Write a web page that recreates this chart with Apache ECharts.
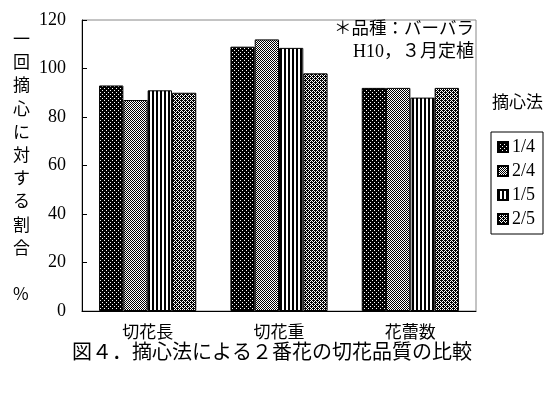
<!DOCTYPE html>
<html><head><meta charset="utf-8">
<script src="https://cdn.jsdelivr.net/npm/echarts@6/dist/echarts.min.js"></script>
<style>html,body{margin:0;padding:0;background:#fff}#c{width:560px;height:394px}</style>
</head><body><div id="c"></div>
<script>
const categories = ['切花長', '切花重', '花蕾数'];
const seriesNames = ['1/4', '2/4', '1/5', '2/5'];
const s14 = [93, 109, 92];
const s24 = [87, 112, 92];
const s15 = [91, 108.5, 88];
const s25 = [90, 98, 92];
const yTicks = [0, 20, 40, 60, 80, 100, 120];

function tile(w, h, fn) {
  const c = document.createElement('canvas');
  c.width = w; c.height = h;
  const g = c.getContext('2d');
  const img = g.createImageData(w, h);
  for (let y = 0; y < h; y++) for (let x = 0; x < w; x++) {
    const v = fn(x, y) ? 0 : 255;
    const i = (y * w + x) * 4;
    img.data[i] = img.data[i+1] = img.data[i+2] = v; img.data[i+3] = 255;
  }
  g.putImageData(img, 0, 0);
  return c;
}
const p1 = tile(4, 4, (x, y) => !((x === 0 && y === 0) || (x === 2 && y === 2)));
const p2 = tile(2, 2, (x, y) => (x + y) % 2 === 0);
const p3 = tile(4, 1, (x, y) => x < 2);
const p4 = tile(4, 4, (x, y) => (x + y) % 2 === 0 || (x === 1 && y === 0) || (x === 3 && y === 2));
const pats = [p1, p2, p3, p4];
const vals = [s14, s24, s15, s25];

const FONT = "'Liberation Serif', 'Noto Sans CJK JP', serif";
const JFONT = "'Noto Sans CJK JP', sans-serif";

const chart = echarts.init(document.getElementById('c'), null, {renderer: 'canvas'});
chart.setOption({
  animation: false,
  backgroundColor: '#fff',
  grid: {left: 82, right: 84, top: 20, bottom: 83, show: true, borderColor: '#888', borderWidth: 1, backgroundColor: 'transparent'},
  xAxis: {
    type: 'category', data: categories,
    axisLine: {lineStyle: {color: '#000', width: 1}},
    axisTick: {inside: true, length: 5, lineStyle: {color: '#000'}},
    axisLabel: {color: '#000', fontSize: 17, fontFamily: JFONT, margin: 12}
  },
  yAxis: {
    type: 'value', min: 0, max: 120, interval: 20,
    axisLine: {show: true, lineStyle: {color: '#000', width: 1}},
    axisTick: {show: true, inside: true, length: 5, lineStyle: {color: '#000'}},
    splitLine: {show: false},
    axisLabel: {color: '#000', fontSize: 18, fontFamily: FONT, margin: 16,
      formatter: v => yTicks.includes(v) ? String(v) : ''}
  },
  legend: {
    orient: 'vertical', left: 491, top: 132, padding: [6, 8, 6, 6],
    borderColor: '#000', borderWidth: 1, itemWidth: 10, itemHeight: 10, itemGap: 6,
    textStyle: {color: '#000', fontSize: 18, lineHeight: 18, fontFamily: FONT, padding: [0, 0, 0, -1]},
    data: seriesNames.map(n => ({name: n, icon: 'rect'}))
  },
  series: seriesNames.map((n, i) => ({
    name: n, type: 'bar', data: vals[i],
    barGap: '0%', barCategoryGap: '26%',
    itemStyle: {color: {image: pats[i], repeat: 'repeat'}, borderColor: '#000', borderWidth: 1}
  })),
  graphic: [
    {type: 'text', left: 492, top: 93, style: {text: '摘心法', fontSize: 17, fontFamily: JFONT, fill: '#000'}},
    {type: 'text', right: 86, top: 19, style: {text: '＊品種：バーバラ', fontSize: 17.5, fontFamily: JFONT, fill: '#000'}},
    {type: 'text', right: 86, top: 43, style: {text: 'H10，３月定植', fontSize: 18, fontFamily: FONT, fill: '#000'}},
    {type: 'text', left: 13, top: 27, style: {text: '一\n回\n摘\n心\nに\n対\nす\nる\n割\n合\n\n%', fontSize: 17, lineHeight: 23.2, align: 'center', x: 9, fontFamily: JFONT, fill: '#000'}},
    {type: 'text', left: 72, top: 341, style: {text: '図４．摘心法による２番花の切花品質の比較', fontSize: 20, fontFamily: JFONT, fill: '#000'}}
  ]
});
</script></body></html>
